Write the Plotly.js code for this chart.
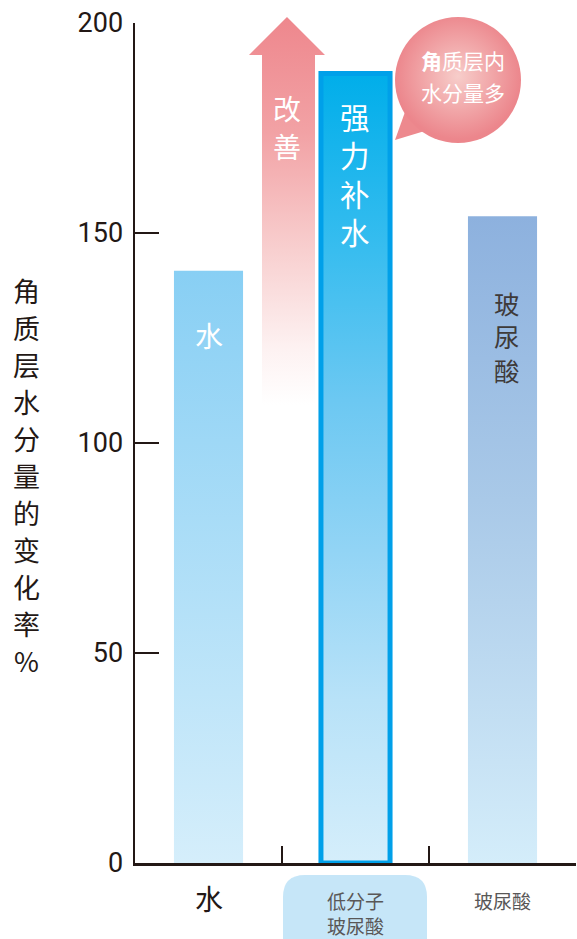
<!DOCTYPE html>
<html>
<head>
<meta charset="utf-8">
<script src="https://cdn.plot.ly/plotly-3.0.1.min.js"></script>
<style>
html,body{margin:0;padding:0;background:#fff;}
#chart{width:577px;height:939px;}
</style>
</head>
<body>
<div id="chart"></div>
<script>
// ---- data ----
const categories = ['水', '低分子玻尿酸', '玻尿酸'];
const values = [141, 188, 154];
const xLabelLines = [['水'], ['低分子', '玻尿酸'], ['玻尿酸']];
const yTickVals = [0, 50, 100, 150, 200];
const barTexts = ['水', '强力补水', '玻尿酸'];
const yTitle = '角质层水分量的变化率%';
const arrowText = '改善';
const bubbleLines = ['<b>角</b>质层内', '水分量多'];

// ---- layout helpers (pixel -> paper) ----
const W = 577, H = 939;
const M = {l: 135, r: 1, t: 23, b: 76};
const PW = W - M.l - M.r, PH = H - M.t - M.b;
const px = x => (x - M.l) / PW;
const py = y => (H - M.b - y) / PH;
const CJK = '"Noto Sans CJK SC", "Noto Sans", sans-serif';

const annotations = [];
const vertical = []; // {index, n, step, size}
function addChar(ch, xref, x, cy, size, color) {
  annotations.push({
    xref: xref, yref: 'paper', x: x, y: py(cy),
    xanchor: 'center', yanchor: 'middle', showarrow: false,
    text: ch, font: {family: CJK, size: size, color: color}
  });
}
// vertical stacked text as ONE annotation; line spacing fixed after render
function vText(str, xref, x, startY, step, size, color) {
  const chars = Array.from(str);
  const n = chars.length;
  vertical.push({index: annotations.length, n: n, step: step, size: size});
  annotations.push({
    xref: xref, yref: 'paper', x: x, y: py(startY + (n - 1) * step / 2),
    xanchor: 'center', yanchor: 'middle', showarrow: false,
    text: chars.join('<br>'), font: {family: CJK, size: size, color: color}
  });
}

// y axis title (vertical stacked)
vText(yTitle, 'paper', px(26), 290, 37, 27, '#231815');
// x labels
addChar(xLabelLines[0][0], 'x', categories[0], 898, 28, '#231815');
addChar(xLabelLines[1][0], 'x', categories[1], 900, 19, '#595757');
addChar(xLabelLines[1][1], 'x', categories[1], 925, 19, '#595757');
addChar(xLabelLines[2][0], 'x', categories[2], 900, 19, '#595757');
// in-bar texts
addChar(barTexts[0], 'x', categories[0], 335, 28, '#ffffff');
vText(barTexts[1], 'paper', px(355), 116, 38.5, 29.5, '#ffffff');
vText(barTexts[2], 'paper', px(507), 302, 33.5, 25.5, '#3e3a39');
// arrow text
vText(arrowText, 'paper', px(287), 108, 38, 28, '#ffffff');
// bubble text
addChar(bubbleLines[0], 'paper', px(463), 60, 21, '#ffffff');
addChar(bubbleLines[1], 'paper', px(463), 92, 21, '#ffffff');

// shapes
function P(x, y) { return px(x).toFixed(5) + ',' + py(y).toFixed(5); }
const rr = {x0: 283, x1: 427, y0: 875, y1: 950, r: 22};
const roundRect = 'M' + P(rr.x0 + rr.r, rr.y0) + ' L' + P(rr.x1 - rr.r, rr.y0) +
  ' Q' + P(rr.x1, rr.y0) + ' ' + P(rr.x1, rr.y0 + rr.r) +
  ' L' + P(rr.x1, rr.y1) + ' L' + P(rr.x0, rr.y1) + ' L' + P(rr.x0, rr.y0 + rr.r) +
  ' Q' + P(rr.x0, rr.y0) + ' ' + P(rr.x0 + rr.r, rr.y0) + ' Z';
const arrowPath = 'M' + P(262, 405) + ' L' + P(262, 55) + ' L' + P(249, 55) + ' L' + P(287, 17) +
  ' L' + P(325, 55) + ' L' + P(315, 55) + ' L' + P(315, 405) + ' Z';
const tailPath = 'M' + P(395, 140) + ' L' + P(405, 112) + ' L' + P(428, 130) + ' Z';

const shapes = [
  {type: 'path', xref: 'paper', yref: 'paper', path: roundRect, fillcolor: '#c6e6f8', line: {width: 0}, layer: 'above'},
  {type: 'path', xref: 'paper', yref: 'paper', path: arrowPath, fillcolor: '#f2a3a6', line: {width: 0}, layer: 'above'},
  {type: 'path', xref: 'paper', yref: 'paper', path: tailPath, fillcolor: '#ed898e', line: {width: 0}, layer: 'above'},
  {type: 'circle', xref: 'paper', yref: 'paper', x0: px(395), x1: px(521), y0: py(143), y1: py(17), fillcolor: '#f0a0a3', line: {width: 0}, layer: 'above'}
];

const trace = {
  type: 'bar', x: categories, y: values, width: 0.47,
  marker: {color: ['#aedcf7', '#6cc8f2', '#b0cbea'], line: {width: [0, 5, 0], color: '#00a0e9'}},
  hoverinfo: 'skip'
};

const layout = {
  width: W, height: H, margin: M,
  paper_bgcolor: '#ffffff', plot_bgcolor: '#ffffff',
  showlegend: false,
  xaxis: {
    type: 'category', range: [-0.5, 2.5], showline: true, linecolor: '#231815', linewidth: 2.5,
    ticks: 'inside', tickson: 'boundaries', ticklen: 17, tickwidth: 2.5, tickcolor: '#231815',
    showticklabels: false, showgrid: false, zeroline: false, fixedrange: true
  },
  yaxis: {
    range: [0, 200], tickvals: yTickVals, showline: true, linecolor: '#231815', linewidth: 2.5,
    ticks: 'inside', ticklen: 24, tickwidth: 2.5, tickcolor: '#231815', ticklabelstandoff: 4,
    tickfont: {family: 'Roboto, "Noto Sans", sans-serif', size: 27, color: '#231815'},
    showgrid: false, zeroline: false, fixedrange: true
  },
  annotations: annotations,
  shapes: shapes
};

// Plotly gives each line tspan the same y and a cumulative dy; re-space lines.
function fixVertical(gd) {
  vertical.forEach(v => {
    const t = gd.querySelector('.annotation[data-index="' + v.index + '"] text');
    if (!t) return;
    const lines = t.querySelectorAll('tspan.line');
    if (lines.length < 2) return;
    const delta = (v.n - 1) * (1.3 * v.size - v.step) / 2;
    lines.forEach((ln, i) => {
      ln.setAttribute('dy', (delta + i * v.step) + 'px');
    });
  });
}

function applyGradients(gd) {
  const ns = 'http://www.w3.org/2000/svg';
  const svg = gd.querySelector('svg.main-svg');
  let defs = svg.querySelector('defs');
  if (!defs) { defs = document.createElementNS(ns, 'defs'); svg.insertBefore(defs, svg.firstChild); }
  function grad(kind, id, stops, attrs) {
    const g = document.createElementNS(ns, kind);
    g.setAttribute('id', id);
    Object.keys(attrs).forEach(k => g.setAttribute(k, attrs[k]));
    stops.forEach(s => {
      const st = document.createElementNS(ns, 'stop');
      st.setAttribute('offset', s[0]);
      st.setAttribute('stop-color', s[1]);
      g.appendChild(st);
    });
    defs.appendChild(g);
  }
  const vert = {x1: 0, y1: 0, x2: 0, y2: 1};
  grad('linearGradient', 'gWater', [[0, '#88cff4'], [1, '#d5eefb']], vert);
  grad('linearGradient', 'gLow', [[0, '#00aeea'], [0.224, '#38bdef'], [0.414, '#6cc8f2'], [0.604, '#92d4f5'], [0.794, '#b8e2f8'], [1, '#d5eefb']], vert);
  grad('linearGradient', 'gHya', [[0, '#8db1de'], [0.44, '#a9c9e8'], [1, '#d4edfa']], vert);
  grad('linearGradient', 'gArrow', [[0, '#ee878d'], [0.3, '#f2a2a5'], [0.6, '#f8cfcf'], [0.85, '#fdf1f1'], [1, '#ffffff']], vert);
  grad('radialGradient', 'gBubble', [[0, '#f7cdca'], [1, '#ec868c']], {cx: 0.5, cy: 0.47, r: 0.5});

  const bars = gd.querySelectorAll('.barlayer .point path');
  const ids = ['gWater', 'gLow', 'gHya'];
  bars.forEach((p, i) => { if (ids[i]) p.style.fill = 'url(#' + ids[i] + ')'; });
  const setShape = (idx, id) => {
    gd.querySelectorAll('.shapelayer path[data-index="' + idx + '"]').forEach(p => { p.style.fill = 'url(#' + id + ')'; p.style.fillOpacity = 1; });
  };
  setShape(1, 'gArrow');
  setShape(3, 'gBubble');
}

const gd = document.getElementById('chart');
Plotly.newPlot(gd, [trace], layout, {staticPlot: true, displayModeBar: false}).then(() => {
  applyGradients(gd);
  fixVertical(gd);
});
</script>
</body>
</html>
